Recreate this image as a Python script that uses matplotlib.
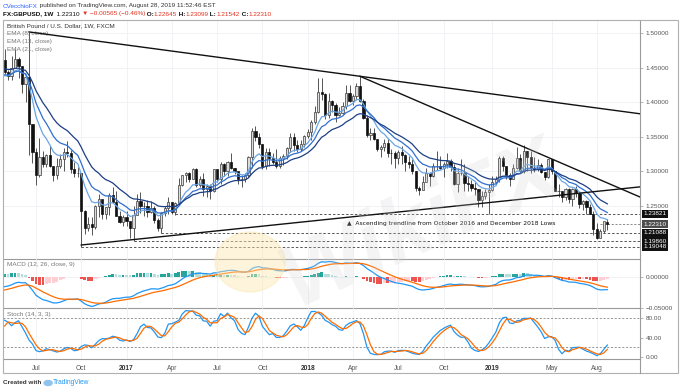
import numpy as np
import pandas as pd
import matplotlib
matplotlib.use('Agg')
import matplotlib.pyplot as plt
import matplotlib.transforms as mtransforms
from matplotlib.patches import Rectangle, Ellipse

# ---- data: GBPUSD weekly bars, week of 2016-05-02 .. 2019-08-26 ----
# warm-up weeks (Oct 2015 - Apr 2016), used only for the indicators
warm_high = [1.5400, 1.5510, 1.5510, 1.5480, 1.5440, 1.5270, 1.5280, 1.5240, 1.5140, 1.5240,
             1.5250, 1.4980, 1.4900, 1.4800, 1.4590, 1.4350, 1.4340, 1.4670, 1.4580, 1.4460,
             1.4210, 1.4290, 1.4460, 1.4510, 1.4250, 1.4460, 1.4180, 1.4340, 1.4470, 1.4640]
warm_low = [1.5110, 1.5260, 1.5260, 1.5180, 1.5020, 1.5020, 1.5140, 1.4990, 1.4900, 1.5020,
            1.4880, 1.4800, 1.4700, 1.4530, 1.4240, 1.4080, 1.4080, 1.4200, 1.4350, 1.4100,
            1.3840, 1.3980, 1.4100, 1.4050, 1.4090, 1.4120, 1.4000, 1.4000, 1.4110, 1.4360]
warm_close = [1.5330, 1.5430, 1.5320, 1.5430, 1.5040, 1.5220, 1.5190, 1.5020, 1.5100, 1.5220,
              1.4900, 1.4900, 1.4740, 1.4550, 1.4260, 1.4240, 1.4250, 1.4500, 1.4480, 1.4400,
              1.3870, 1.4230, 1.4370, 1.4440, 1.4130, 1.4380, 1.4130, 1.4200, 1.4410, 1.4620]

high = [1.4770, 1.4470, 1.4670, 1.4770, 1.4650, 1.4530, 1.4360, 1.5020, 1.3540, 1.3340,
        1.3480, 1.3290, 1.3250, 1.3370, 1.3050, 1.3190, 1.3250, 1.3340, 1.3440, 1.3310,
        1.3130, 1.3060, 1.2890, 1.2440, 1.2340, 1.2340, 1.2510, 1.2670, 1.2560, 1.2480,
        1.2680, 1.2770, 1.2710, 1.2420, 1.2360, 1.2430, 1.2250, 1.2490, 1.2670, 1.2700,
        1.2550, 1.2580, 1.2570, 1.2490, 1.2320, 1.2410, 1.2500, 1.2620, 1.2560, 1.2560,
        1.2900, 1.2950, 1.2990, 1.2990, 1.3050, 1.3040, 1.2930, 1.2980, 1.2820, 1.2820,
        1.3030, 1.3030, 1.3130, 1.3120, 1.3150, 1.3270, 1.3050, 1.2930, 1.2940, 1.2980,
        1.3220, 1.3620, 1.3660, 1.3560, 1.3400, 1.3340, 1.3340, 1.3260, 1.3320, 1.3220,
        1.3250, 1.3350, 1.3550, 1.3550, 1.3460, 1.3450, 1.3520, 1.3610, 1.3740, 1.3940,
        1.4350, 1.4350, 1.4140, 1.4140, 1.4030, 1.3990, 1.3930, 1.4000, 1.4250, 1.4250,
        1.4120, 1.4280, 1.4377, 1.4050, 1.3820, 1.3630, 1.3620, 1.3470, 1.3380, 1.3470,
        1.3470, 1.3320, 1.3290, 1.3310, 1.3360, 1.3250, 1.3220, 1.3170, 1.3000, 1.2790,
        1.2930, 1.3050, 1.2990, 1.3120, 1.3300, 1.3220, 1.3130, 1.3260, 1.3170, 1.3100,
        1.3040, 1.3180, 1.3100, 1.2930, 1.2870, 1.2840, 1.2670, 1.2710, 1.2740, 1.2820,
        1.2930, 1.2930, 1.3220, 1.3220, 1.3080, 1.2980, 1.3100, 1.3350, 1.3250, 1.3380,
        1.3300, 1.3290, 1.3200, 1.3170, 1.3120, 1.2990, 1.3180, 1.3180, 1.3000, 1.2810,
        1.2710, 1.2760, 1.2760, 1.2760, 1.2780, 1.2700, 1.2580, 1.2580, 1.2520, 1.2430,
        1.2250, 1.2160, 1.2270, 1.23099]
low = [1.4410, 1.4330, 1.4330, 1.4540, 1.4350, 1.4130, 1.4010, 1.3230, 1.3120, 1.2800,
       1.2920, 1.3060, 1.3060, 1.3060, 1.2860, 1.2880, 1.3050, 1.3010, 1.3200, 1.2980,
       1.2910, 1.2920, 1.19048, 1.2090, 1.2130, 1.2080, 1.2160, 1.2340, 1.2300, 1.2300,
       1.2360, 1.2560, 1.2350, 1.2250, 1.2200, 1.2200, 1.2030, 1.1986, 1.2380, 1.2400,
       1.2350, 1.2340, 1.2390, 1.2250, 1.2130, 1.21088, 1.2350, 1.2380, 1.2380, 1.2370,
       1.2510, 1.2780, 1.2840, 1.2840, 1.2880, 1.2770, 1.2770, 1.2640, 1.2630, 1.2590,
       1.2700, 1.2850, 1.2810, 1.2930, 1.2930, 1.3030, 1.2960, 1.2810, 1.2770, 1.2840,
       1.2920, 1.3050, 1.3440, 1.3330, 1.3030, 1.3030, 1.3080, 1.3100, 1.3050, 1.3040,
       1.3090, 1.3180, 1.3280, 1.3300, 1.3280, 1.3300, 1.3350, 1.3480, 1.3460, 1.3690,
       1.3840, 1.4040, 1.3760, 1.3770, 1.3860, 1.3710, 1.3800, 1.3830, 1.3900, 1.4000,
       1.3960, 1.4040, 1.4000, 1.3760, 1.3490, 1.3450, 1.3450, 1.3300, 1.3200, 1.3300,
       1.3210, 1.3100, 1.3050, 1.3100, 1.3100, 1.3010, 1.3050, 1.2960, 1.2720, 1.2660,
       1.2770, 1.2840, 1.2790, 1.2910, 1.3020, 1.3030, 1.2920, 1.3040, 1.3000, 1.2800,
       1.2700, 1.2940, 1.2720, 1.2720, 1.2710, 1.2660, 1.2480, 1.2480, 1.2600, 1.23821,
       1.2720, 1.2800, 1.2850, 1.3000, 1.2890, 1.2780, 1.2880, 1.3030, 1.2970, 1.2980,
       1.3000, 1.2980, 1.2990, 1.3000, 1.2970, 1.2870, 1.2900, 1.2960, 1.2720, 1.2620,
       1.2560, 1.2580, 1.2540, 1.2500, 1.2630, 1.2470, 1.2440, 1.2380, 1.2380, 1.2080,
       1.2015, 1.2040, 1.2110, 1.21542]
close = [1.4440, 1.4375, 1.4500, 1.4630, 1.4520, 1.4260, 1.4360, 1.3680, 1.3280, 1.2950,
         1.3200, 1.3110, 1.3230, 1.3070, 1.2940, 1.3080, 1.3180, 1.3280, 1.3270, 1.3030,
         1.2970, 1.2980, 1.2430, 1.2180, 1.2230, 1.2190, 1.2490, 1.2590, 1.2380, 1.2480,
         1.2650, 1.2560, 1.2350, 1.2270, 1.2340, 1.2280, 1.2180, 1.2370, 1.2570, 1.2490,
         1.2490, 1.2410, 1.2470, 1.2290, 1.2170, 1.2400, 1.2470, 1.2550, 1.2410, 1.2540,
         1.2800, 1.2950, 1.2970, 1.2880, 1.3030, 1.2800, 1.2890, 1.2740, 1.2780, 1.2720,
         1.3030, 1.2880, 1.3100, 1.3000, 1.3130, 1.3040, 1.3010, 1.2880, 1.2880, 1.2950,
         1.3200, 1.3590, 1.3490, 1.3390, 1.3070, 1.3280, 1.3190, 1.3130, 1.3070, 1.3190,
         1.3220, 1.3330, 1.3490, 1.3380, 1.3320, 1.3390, 1.3510, 1.3570, 1.3720, 1.3860,
         1.4150, 1.4120, 1.3820, 1.4020, 1.3960, 1.3810, 1.3850, 1.3950, 1.4140, 1.4020,
         1.4090, 1.4240, 1.4020, 1.3770, 1.3520, 1.3550, 1.3470, 1.3320, 1.3350, 1.3410,
         1.3270, 1.3260, 1.3190, 1.3280, 1.3230, 1.3140, 1.3110, 1.3000, 1.2760, 1.2730,
         1.2840, 1.2970, 1.2930, 1.3070, 1.3070, 1.3040, 1.3110, 1.3150, 1.3060, 1.2820,
         1.2970, 1.2970, 1.2830, 1.2810, 1.2760, 1.2740, 1.2580, 1.2640, 1.2700, 1.2730,
         1.2840, 1.2880, 1.3190, 1.3080, 1.2940, 1.2890, 1.3050, 1.3190, 1.3000, 1.3300,
         1.3210, 1.3040, 1.3030, 1.3090, 1.2990, 1.2920, 1.3180, 1.3000, 1.2720, 1.2710,
         1.2630, 1.2740, 1.2590, 1.2740, 1.2690, 1.2520, 1.2570, 1.2480, 1.2380, 1.2160,
         1.2030, 1.2140, 1.2280, 1.22310]
first_open = 1.4620
last_open = 1.22645

# axis labels and marked levels
tick_idx = [9, 22, 35, 48, 61, 74, 87, 100, 113, 126, 140, 157, 170]
tick_lab = ['Jul', 'Oct', '2017', 'Apr', 'Jul', 'Oct', '2018', 'Apr', 'Jul', 'Oct', '2019', 'May', 'Aug']
price_ticks = [1.25, 1.30, 1.35, 1.40, 1.45, 1.50]
levels = [1.23821, 1.21088, 1.19860, 1.19048]
level_start = [49, 45, 37, 22]
last_price = 1.22310

# trendlines: (bar index, price) anchor pairs
down_long = [(7, 1.5020), (102, 1.4377)]
down_short = [(102, 1.4377), (149, 1.3353)]
up_line = [(22, 1.1930), (139, 1.2545)]

# ---- indicators ----
all_close = pd.Series(warm_close + close)
all_high = pd.Series(warm_high + high)
all_low = pd.Series(warm_low + low)
nw = len(warm_close)
n = len(close)
idx = np.arange(n)

ema8 = all_close.ewm(span=8, adjust=False).mean().values[nw:]
ema13 = all_close.ewm(span=13, adjust=False).mean().values[nw:]
ema21 = all_close.ewm(span=21, adjust=False).mean().values[nw:]
macd_all = all_close.ewm(span=12, adjust=False).mean() - all_close.ewm(span=26, adjust=False).mean()
sig_all = macd_all.ewm(span=9, adjust=False).mean()
hist_all = macd_all - sig_all
macd = macd_all.values[nw:]
sig = sig_all.values[nw:]
hist = hist_all.values[nw:]
hist_prev = hist_all.values[nw - 1:-1]
ll = all_low.rolling(14).min()
hh = all_high.rolling(14).max()
raw_k = 100 * (all_close - ll) / (hh - ll)
k = raw_k.rolling(3).mean()
d = k.rolling(3).mean()
k = k.values[nw:]
d = d.values[nw:]

opens = np.r_[first_open, close[:-1]]
opens[-1] = last_open
closes = np.array(close)

# ---- figure ----
W, H = 680, 390
fig = plt.figure(figsize=(6.8, 3.9), dpi=100)
FONT = ['Liberation Sans', 'DejaVu Sans']
plt.rcParams['font.family'] = FONT
grid_c = '#eef0f4'
axis_c = '#9a9a9a'
lab_c = '#555555'
FS = 4.6


def ax_at(x0, y0, x1, y1):
    return fig.add_axes([x0 / W, 1 - y1 / H, (x1 - x0) / W, (y1 - y0) / H])


def px2i(xp):
    return (xp - 4.6) / 3.484


xlim = (px2i(3), px2i(640))

# outer frame
fig.patches.append(Rectangle((3 / W, 1 - 373 / H), 675 / W, 353 / H, transform=fig.transFigure,
                             fill=False, edgecolor='#b0b0b0', lw=0.8))

# pale watermark logo behind the chart
fig.patches.append(Ellipse((250 / W, 1 - 262 / H), 70 / W, 60 / H, transform=fig.transFigure,
                           color='#fbe7b0', alpha=0.45, zorder=0))

ax = ax_at(3, 20, 640, 259)
ax_m = ax_at(3, 259, 640, 308)
ax_s = ax_at(3, 308, 640, 359)

for a in (ax, ax_m, ax_s):
    a.set_xlim(*xlim)
    a.set_facecolor('none')
    for sp in ('top', 'left'):
        a.spines[sp].set_visible(False)
    a.spines['right'].set_color(axis_c)
    a.spines['bottom'].set_color(axis_c)
    a.spines['right'].set_linewidth(0.8)
    a.spines['bottom'].set_linewidth(0.8)
    a.yaxis.tick_right()
    a.tick_params(axis='y', length=2, width=0.5, color=axis_c, labelsize=FS, labelcolor=lab_c, pad=2)
    a.set_xticks(tick_idx)
    for t in tick_idx:
        a.axvline(t, color=grid_c, lw=0.6, zorder=0)
    a.tick_params(axis='x', length=0, labelbottom=False)

# ---- price panel ----
ax.set_ylim(1.1727, 1.5193)
ax.set_yticks(price_ticks)
ax.set_yticklabels(['%.5f' % p for p in price_ticks])
for p in price_ticks:
    ax.axhline(p, color=grid_c, lw=0.6, zorder=0)

up = closes >= opens
body_lo = np.minimum(opens, closes)
body_h = np.maximum(np.abs(closes - opens), 0.0008)
ax.vlines(idx, low, high, color='#3a3a3a', lw=0.6, zorder=3)
ax.bar(idx[up], body_h[up], bottom=body_lo[up], width=0.62, color='#dcdcdc',
       edgecolor='#3a3a3a', linewidth=0.5, zorder=4)
ax.bar(idx[~up], body_h[~up], bottom=body_lo[~up], width=0.62, color='#111111',
       edgecolor='#111111', linewidth=0.5, zorder=4)

ax.plot(idx, ema8, color='#6aa6e6', lw=0.9, zorder=5)
ax.plot(idx, ema13, color='#2f6fcf', lw=0.9, zorder=5)
ax.plot(idx, ema21, color='#1d3f85', lw=0.9, zorder=5)


def trend(a, pts):
    (x0, y0), (x1, y1) = pts
    xs = np.array([x0, xlim[1]])
    ys = y0 + (y1 - y0) / (x1 - x0) * (xs - x0)
    a.plot(xs, ys, color='#111111', lw=1.0, zorder=6)


trend(ax, down_long)
trend(ax, down_short)
trend(ax, up_line)

blend = mtransforms.blended_transform_factory(ax.transAxes, ax.transData)
for lv, st in zip(levels, level_start):
    ax.plot([st, xlim[1]], [lv, lv], color='#555555', lw=0.7, ls=(0, (2.5, 2)), zorder=2)
    ax.text(1.005, lv, '%.5f' % lv, transform=blend, fontsize=FS, color='white',
            va='center', ha='left', clip_on=False,
            bbox=dict(boxstyle='square,pad=0.25', fc='#111111', ec='none'))
ax.plot([n - 3, xlim[1]], [last_price, last_price], color='#777777', lw=0.6, ls=(0, (2.5, 2)), zorder=2)
ax.text(1.005, last_price, '%.5f' % last_price, transform=blend, fontsize=FS, color='white',
        va='center', ha='left', clip_on=False,
        bbox=dict(boxstyle='square,pad=0.25', fc='#4d4d4d', ec='none'))

ax.text(98.3, 1.2240, '\u25b2  Ascending trendline from October 2016 and December 2018 Lows',
        fontsize=4.3, color='#111111', va='center', ha='left', family=['DejaVu Sans'], zorder=7)


def yfrac(yp):
    return 1 - (yp - 20) / 239


ax.text(0.007, yfrac(26), 'British Pound / U.S. Dollar, 1W, FXCM', transform=ax.transAxes,
        fontsize=FS, color='#333333', va='center')
for yp, s in zip([34, 42, 49], ['EMA (8, close)', 'EMA (13, close)', 'EMA (21, close)']):
    ax.text(0.007, yfrac(yp), s, transform=ax.transAxes, fontsize=FS, color='#777777', va='center')

# ---- MACD panel ----
ax_m.set_ylim(-0.0500, 0.0290)
ax_m.set_yticks([0.0, -0.05])
ax_m.set_yticklabels(['0.00000', '\u22120.05000'])
ax_m.axhline(0, color=grid_c, lw=0.6, zorder=0)
hcol = []
for h_, hp in zip(hist, hist_prev):
    if h_ >= 0:
        hcol.append('#26a69a' if h_ >= hp else '#b2dfdb')
    else:
        hcol.append('#ef5350' if h_ < hp else '#ffcdd2')
ax_m.bar(idx, hist, width=0.8, color=hcol, zorder=2)
ax_m.plot(idx, macd, color='#2196f3', lw=0.9, zorder=3)
ax_m.plot(idx, sig, color='#ff6d00', lw=0.9, zorder=3)
ax_m.text(0.007, 0.93, 'MACD (12, 26, close, 9)', transform=ax_m.transAxes,
          fontsize=FS, color='#777777', va='top')

# ---- Stoch panel ----
ax_s.set_ylim(-4, 101)
ax_s.set_yticks([0, 40, 80])
ax_s.set_yticklabels(['0.00', '40.00', '80.00'])
for lvl in (80, 20):
    ax_s.axhline(lvl, color='#888888', lw=0.6, ls=(0, (2.5, 2)), zorder=1)
ax_s.plot(idx, k, color='#2196f3', lw=0.9, zorder=3)
ax_s.plot(idx, d, color='#ff6d00', lw=0.9, zorder=3)
ax_s.text(0.007, 0.93, 'Stoch (14, 3, 3)', transform=ax_s.transAxes,
          fontsize=FS, color='#777777', va='top')

# time axis labels
ax_s.tick_params(axis='x', labelbottom=True, labelsize=4.8, labelcolor=lab_c, pad=4)
ax_s.set_xticklabels(tick_lab)
for t in ax_s.get_xticklabels():
    if t.get_text().isdigit():
        t.set_fontweight('bold')
        t.set_color('#333333')
fig.add_artist(plt.Line2D([640 / W, 640 / W], [1 - 373 / H, 1 - 359 / H], color=axis_c, lw=0.8))

# watermark
fig.text(0.62, 0.42, 'WikiFX', fontsize=64, rotation=24, color='#cfcfcf', alpha=0.22,
         ha='center', va='center', weight='bold', style='italic', zorder=0)

# header and footer, laid out piece by piece
fig.canvas.draw()
r = fig.canvas.get_renderer()


def text_row(x0, yp, parts, fs=FS):
    for s, c, wgt in parts:
        t = fig.text(x0 / W, 1 - yp / H, s, fontsize=fs, color=c, weight=wgt, va='center',
                     family=['Liberation Sans', 'DejaVu Sans'])
        x0 += t.get_window_extent(renderer=r).width
    return x0


text_row(3, 6, [('CVecchioFX', '#2962ff', 'normal'),
                (' published on TradingView.com, August 28, 2019 11:52:46 EST', '#333333', 'normal')])
text_row(3, 14, [('FX:GBPUSD, 1W', '#111111', 'bold'), ('  1.22310 ', '#111111', 'normal'),
                 ('\u25bc \u22120.00565 (\u22120.46%)', '#e0301e', 'normal'),
                 (' O:', '#111111', 'bold'), ('1.22645', '#e0301e', 'normal'),
                 (' H:', '#111111', 'bold'), ('1.23099', '#e0301e', 'normal'),
                 (' L:', '#111111', 'bold'), ('1.21542', '#e0301e', 'normal'),
                 (' C:', '#111111', 'bold'), ('1.22310', '#e0301e', 'normal')])
xe = text_row(3, 383, [('Created with ', '#333333', 'bold')])
fig.patches.append(Ellipse(((xe + 5) / W, 1 - 383 / H), 8 / W, 5 / H, transform=fig.transFigure,
                           color='#8fc3ee'))
text_row(xe + 10, 383, [('TradingView', '#2196f3', 'normal')], fs=4.8)

fig.savefig('out.png', dpi=100)
